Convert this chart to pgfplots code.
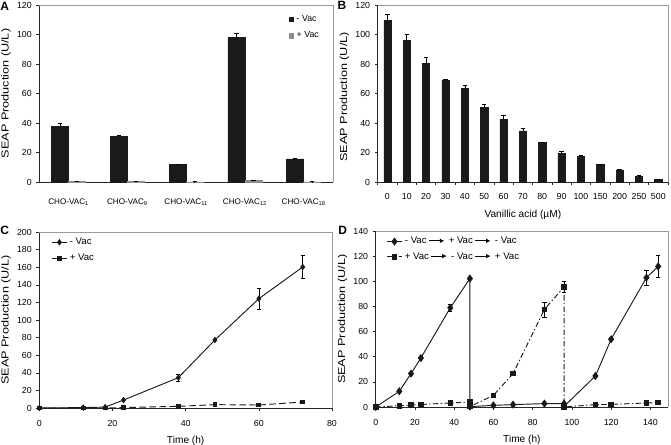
\documentclass[border=0pt]{standalone}
\usepackage{pgfplots}
\pgfplotsset{compat=1.18}
\usetikzlibrary{arrows.meta}
\usepackage{fontspec}
\setmainfont{Liberation Sans}
\newcommand\arr{\hspace{1.5pt}\tikz[baseline=-0.6ex]\draw[line width=0.6pt,-{Latex[length=3.4pt,width=3.4pt]}] (0pt,0pt) -- (11.5pt,0pt);\hspace{3pt}}

\definecolor{barblack}{HTML}{1A1A1A}
\definecolor{bargray}{HTML}{8C8C8C}
\definecolor{framegray}{HTML}{9A9A9A}

\pgfplotsset{
  panel/.style={
    scale only axis, anchor=south west,
    axis lines*=left,
    axis line style={-, black!85, line width=0.55pt},
    tick align=outside, major tick length=2.2pt, minor tick length=2.2pt,
    tick style={black!85, line width=0.45pt},
    ticklabel style={font=\fontsize{6.6}{8}\selectfont},
    /pgf/number format/assume math mode=true,
    ylabel={SEAP Production (U/L)},
    every axis y label/.style={at={(axis description cs:0,0.5)}, xshift=-25pt,
      rotate=90, xscale=1.25, anchor=center, font=\fontsize{7.6}{9}\selectfont},
    xlabel style={font=\fontsize{7.6}{9}\selectfont},
    legend cell align=left,
    legend style={draw=none, fill=none, font=\fontsize{6.6}{8}\selectfont},
    clip=false,
  },
  ebar/.style={error bars/.cd, y explicit, y dir=#1,
    error bar style={black, solid, line width=0.45pt},
    error mark options={rotate=90, mark size=1.6pt, black, solid, line width=0.45pt}},
  linelegend/.style={legend image code/.code={%
    \draw[mark repeat=2, mark phase=2, ##1] plot coordinates {(0pt,0pt) (5.5pt,0pt) (11pt,0pt)};}},
}

\begin{document}
\begin{tikzpicture}
\path[use as bounding box] (0pt,0pt) rectangle (503.25pt,-333.75pt);

% Panel A
\begin{axis}[panel, at={(29.5pt,-136.5pt)}, width=220.3pt, height=132.75pt,
  ymin=0, ymax=120, ytick={0,20,...,120},
  xmin=-0.5, xmax=4.5, xtick={0,...,4},
  xticklabels={CHO-VAC\textsubscript{1}, CHO-VAC\textsubscript{9}, CHO-VAC\textsubscript{11}, CHO-VAC\textsubscript{12}, CHO-VAC\textsubscript{18}},
  major x tick style={draw=none},
  xticklabel style={yshift=-7pt, font=\fontsize{6.1}{8}\selectfont},
  ybar=0pt, bar width=12.75pt,
  legend style={at={(0.975,0.975)}, anchor=north east, row sep=2.3pt},
  legend image code/.code={\fill[#1] (0pt,-1.7pt) rectangle (3.4pt,1.7pt);},
]
\addplot[fill=barblack, draw=barblack, ebar=plus] coordinates {
  (0,37.9) +- (0,2.2)
  (1,31.1) +- (0,0.5)
  (2,11.8) +- (0,0.4)
  (3,98.0) +- (0,2.6)
  (4,15.6) +- (0,0.5)
};
\addplot[fill=bargray, draw=bargray, ebar=plus] coordinates {
  (0,0.3) +- (0,0.2)
  (1,0.4) +- (0,0.2)
  (2,0.1) +- (0,0.1)
  (3,1.0) +- (0,0.4)
  (4,0.1) +- (0,0.1)
};
\legend{- Vac, + Vac}
\draw[framegray, line width=0.5pt] (rel axis cs:0,1) -- (rel axis cs:1,1) -- (rel axis cs:1,0);
\end{axis}

% Panel B
\begin{axis}[panel, at={(283.3pt,-136.5pt)}, width=217.7pt, height=132.75pt,
  ymin=0, ymax=120, ytick={0,20,...,120},
  xmin=-0.5, xmax=14.5, xtick={0,...,14},
  xticklabels={0,10,20,30,40,50,60,70,80,90,100,150,200,250,500},
  minor xtick={-0.5,0.5,...,14.5},
  major x tick style={draw=none},
  xticklabel style={yshift=-3pt},
  xlabel={Vanillic acid (µM)},
  xlabel style={yshift=-1pt},
  every axis y label/.append style={xshift=-2pt},
  ybar, bar width=5.4pt,
]
\addplot[fill=barblack, draw=barblack, ebar=plus] coordinates {
  (0,109.5) +- (0,3.9)
  (1,95.9) +- (0,4.3)
  (2,80.5) +- (0,3.8)
  (3,69.0) +- (0,0.8)
  (4,63.5) +- (0,2.2)
  (5,50.6) +- (0,2.1)
  (6,42.6) +- (0,2.5)
  (7,34.7) +- (0,1.8)
  (8,26.6) +- (0,0.6)
  (9,19.5) +- (0,1.1)
  (10,17.3) +- (0,0.6)
  (11,11.8) +- (0,0.5)
  (12,7.8) +- (0,0.9)
  (13,4.0) +- (0,0.3)
  (14,1.6) +- (0,0.4)
};
\draw[framegray, line width=0.5pt] (rel axis cs:0,1) -- (rel axis cs:1,1) -- (rel axis cs:1,0);
\end{axis}

% Panel C
\begin{axis}[panel, at={(29.5pt,-306pt)}, width=219.5pt, height=132pt,
  ymin=0, ymax=200, ytick={0,20,...,200},
  xmin=0, xmax=80, xtick={0,20,...,80},
  xticklabel style={yshift=-3.5pt},
  xlabel={Time (h)},
  linelegend,
  legend style={at={(0,1)}, anchor=north west, xshift=6pt, yshift=-0.3pt, row sep=1.5pt,
    font=\fontsize{7.2}{8}\selectfont},
]
\addplot[black!90, line width=0.7pt, mark=diamond*, mark size=1.9pt, mark options={solid}, ebar=both] coordinates {
  (0,0) (12,0.5) (18,1) (23,9)
  (38,34.5) +- (0,3.8)
  (48,77.3)
  (60,124.2) +- (0,11.7)
  (72,160.2) +- (0,13)
};
\addplot[black!90, line width=0.7pt, dash pattern=on 5pt off 2.5pt, mark=square*, mark size=1.4pt, mark options={solid}] coordinates {
  (0,0) (12,0) (18,0) (23,0.5) (38,1.9) (48,3.8) (60,3.4) (72,6.8)
};
\legend{- Vac, + Vac}
\draw[framegray, line width=0.5pt] (rel axis cs:0,1) -- (rel axis cs:1,1) -- (rel axis cs:1,0);
\end{axis}

% Panel D
\begin{axis}[panel, at={(281.8pt,-305.25pt)}, width=219.2pt, height=131.8pt,
  ymin=0, ymax=140, ytick={0,20,...,140},
  xmin=0, xmax=149, xtick={0,20,...,140},
  xticklabel style={yshift=-3.5pt},
  xlabel={Time (h)},
  linelegend,
  legend style={at={(0,1)}, anchor=north west, xshift=5pt, yshift=-0.3pt, row sep=1pt,
    font=\fontsize{7.2}{8}\selectfont},
]
\addplot[black!90, line width=0.7pt, mark=diamond*, mark size=2.5pt, mark options={solid}, ebar=both] coordinates {
  (0,0) (12,12.5) (18,26.6) (23,39)
  (38,79) +- (0,2.6)
  (48,102.3) (48,0.3) (60,1.3) (70,1.9) (86,2.7) (96,2.7) (96,0.5)
  (112,24.7) (120,54)
  (138,103) +- (0,6)
  (144,112) +- (0,8.7)
};
\addplot[black!90, line width=0.7pt, dash pattern=on 4pt off 1.8pt on 1pt off 1.8pt, mark=square*, mark size=1.7pt, mark options={solid}, ebar=both] coordinates {
  (0,0) (12,1) (18,1.5) (23,2) (38,3.2) (48,4) (48,0.3)
  (60,9.3) (70,26.6)
  (86,77.8) +- (0,6)
  (96,95.6) +- (0,4.6)
  (96,0) (112,1.9) (120,2.1) (138,3.2) (144,3.5)
};
\legend{- Vac\arr + Vac\arr - Vac, + Vac\arr - Vac\arr + Vac}
\draw[framegray, line width=0.5pt] (rel axis cs:0,1) -- (rel axis cs:1,1) -- (rel axis cs:1,0);
\end{axis}

\node[anchor=north west, inner sep=0pt, font=\bfseries\fontsize{9}{10}\selectfont] at (0pt,-1.5pt) {A};
\node[anchor=north west, inner sep=0pt, font=\bfseries\fontsize{9}{10}\selectfont] at (253pt,-1pt) {B};
\node[anchor=north west, inner sep=0pt, font=\bfseries\fontsize{9}{10}\selectfont] at (0pt,-169.5pt) {C};
\node[anchor=north west, inner sep=0pt, font=\bfseries\fontsize{9}{10}\selectfont] at (253.5pt,-169.5pt) {D};
\end{tikzpicture}
\end{document}
